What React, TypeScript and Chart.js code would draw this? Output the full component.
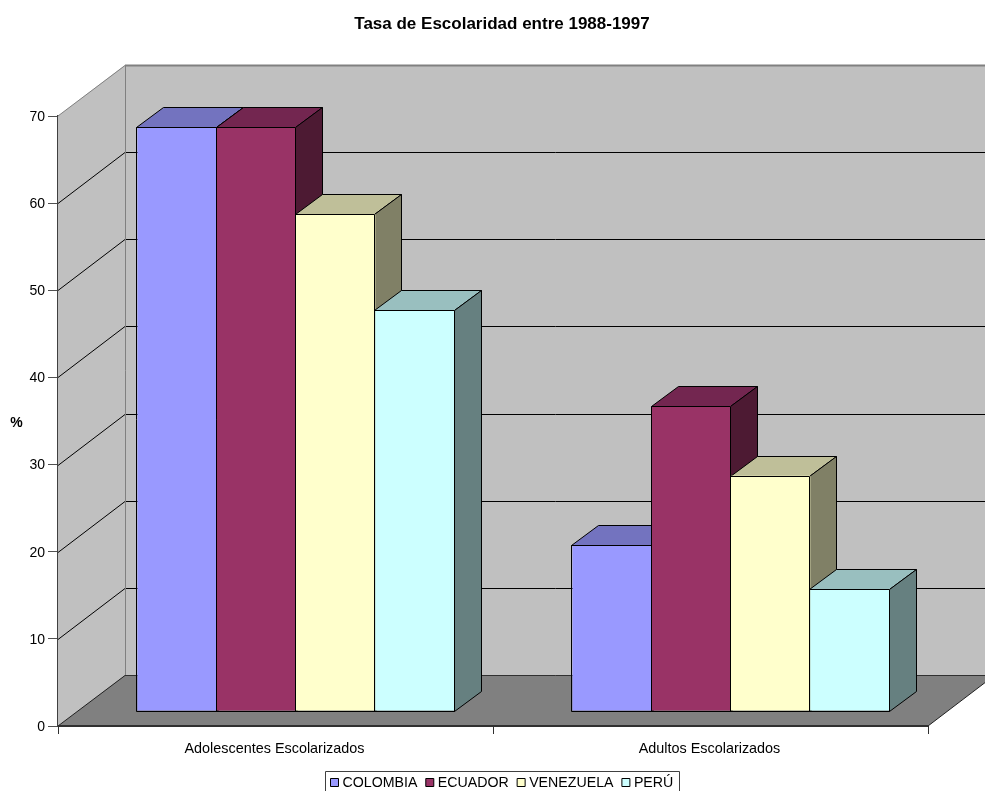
import React, { useEffect, useRef } from "react";
import { Chart, registerables } from "chart.js";

Chart.register(...registerables);

const chartTitle = "Tasa de Escolaridad entre 1988-1997";
const yAxisLabel = "%";
const categories = ["Adolescentes Escolarizados", "Adultos Escolarizados"];
const colombia = [67, 19];
const ecuador = [67, 35];
const venezuela = [57, 27];
const peru = [46, 14];
const seriesNames = ["COLOMBIA", "ECUADOR", "VENEZUELA", "PERÚ"];
const seriesColors = ["#9999FF", "#993366", "#FFFFCC", "#CCFFFF"];
const topColors = ["#7373BF", "#732650", "#BFBF99", "#99BFBF"];
const sideColors = ["#4D4D80", "#4D1A33", "#808066", "#668080"];
const seriesValues = [colombia, ecuador, venezuela, peru];

const FONT = '"Liberation Sans", Arial, sans-serif';
// Receding direction of the room and of the bars, in canvas pixels.
const WALL_DEPTH = { x: 67, y: -51 };
const BAR_INSET = { x: 20.5, y: -15 };
const BAR_DEPTH = { x: 27, y: -20 };

function polygon(ctx: CanvasRenderingContext2D, pts: number[][], fill: string | null, stroke: string | null, lw = 1) {
  ctx.beginPath();
  pts.forEach(([x, y], i) => (i ? ctx.lineTo(x, y) : ctx.moveTo(x, y)));
  ctx.closePath();
  if (fill) {
    ctx.fillStyle = fill;
    ctx.fill();
  }
  if (stroke) {
    ctx.strokeStyle = stroke;
    ctx.lineWidth = lw;
    ctx.stroke();
  }
}

function line(ctx: CanvasRenderingContext2D, x1: number, y1: number, x2: number, y2: number, color: string, lw = 1) {
  ctx.beginPath();
  ctx.moveTo(x1, y1);
  ctx.lineTo(x2, y2);
  ctx.strokeStyle = color;
  ctx.lineWidth = lw;
  ctx.stroke();
}

// Back wall, side wall and floor of the 3D room, with the grid running along the walls.
const roomPlugin = {
  id: "room",
  beforeDatasetsDraw(chart: any) {
    const { ctx, scales } = chart;
    const { x: xs, y: ys } = scales;
    const dx = WALL_DEPTH.x;
    const dy = WALL_DEPTH.y;
    const l = xs.left;
    const r = xs.right;
    const y0 = ys.getPixelForValue(0);
    const yMax = ys.getPixelForValue(ys.max);
    ctx.save();
    polygon(ctx, [[l + dx, yMax + dy], [r + dx, yMax + dy], [r + dx, y0 + dy], [l + dx, y0 + dy]], "#C0C0C0", null);
    polygon(ctx, [[l, yMax], [l + dx, yMax + dy], [l + dx, y0 + dy], [l, y0]], "#C0C0C0", null);
    polygon(ctx, [[l, y0], [r, y0], [r + dx, y0 + dy], [l + dx, y0 + dy]], "#808080", null);
    for (const tick of ys.ticks) {
      const v = tick.value;
      if (v === 0 || v === ys.max) continue;
      const py = Math.round(ys.getPixelForValue(v)) + 0.5;
      line(ctx, l, py, l + dx, py + dy, "#000000");
      line(ctx, l + dx, py + dy, r + dx, py + dy, "#000000");
    }
    const backTop = Math.round(yMax + dy) + 0.5;
    const backBottom = Math.round(y0 + dy) + 0.5;
    line(ctx, l + dx + 0.5, backTop, l + dx + 0.5, backBottom, "#808080");
    line(ctx, l, yMax, l + dx, backTop, "#808080");
    line(ctx, l + dx, backTop, r + dx, backTop, "#808080", 2);
    line(ctx, l, y0, l + dx, backBottom, "#202020");
    line(ctx, l + dx, backBottom, r + dx, backBottom, "#303030");
    line(ctx, r, y0, r + dx, y0 + dy, "#202020");
    ctx.restore();
    drawBars(chart);
  },
  // The library's own pass over the series is replaced by drawBars.
  beforeDatasetDraw() {
    return false;
  },
  afterDraw(chart: any) {
    const { ctx, scales } = chart;
    const { x: xs, y: ys } = scales;
    const y0 = Math.round(ys.getPixelForValue(0));
    ctx.save();
    line(ctx, xs.left, y0, xs.right, y0, "#303030", 2);
    ctx.textBaseline = "middle";
    ctx.fillStyle = "#000000";
    ctx.textAlign = "center";
    ctx.font = `bold 17px ${FONT}`;
    ctx.fillText(chartTitle, 502, 24);
    ctx.font = `bold 14px ${FONT}`;
    ctx.fillText(yAxisLabel, 16.5, 423);
    // Framed legend along the bottom edge.
    const boxLeft = 325.5;
    const boxTop = 771.5;
    polygon(ctx, [[boxLeft, boxTop], [679.5, boxTop], [679.5, 800], [boxLeft, 800]], "#FFFFFF", "#404040");
    ctx.font = `14.2px ${FONT}`;
    ctx.textAlign = "left";
    let x = 330.5;
    chart.data.datasets.forEach((ds: any) => {
      polygon(ctx, [[x, 778.5], [x + 8, 778.5], [x + 8, 786.5], [x, 786.5]], ds.backgroundColor, "#000000");
      ctx.fillStyle = "#000000";
      ctx.fillText(ds.label, x + 12, 783);
      x += 12 + ctx.measureText(ds.label).width + 8.4;
    });
    ctx.restore();
  },
};

// Paints the series left to right, shifted into the room, each bar with its top and side faces,
// so every bar covers the side of its left neighbour.
function drawBars(chart: any) {
  const { ctx } = chart;
  const dx = BAR_DEPTH.x;
  const dy = BAR_DEPTH.y;
  chart.data.datasets.forEach((_: any, i: number) => {
    for (const bar of chart.getDatasetMeta(i).data) {
      const { x, y, base, width } = bar.getProps(["x", "y", "base", "width"], true);
      // Snap the outline to the pixel grid so the shared edges stay sharp.
      const l = Math.round(x - width / 2 + BAR_INSET.x) - 0.5;
      const r = Math.round(x + width / 2 + BAR_INSET.x) - 0.5;
      const t = Math.round(y + BAR_INSET.y) + 0.5;
      const b = Math.round(base + BAR_INSET.y) + 0.5;
      polygon(ctx, [[l, t], [l + dx, t + dy], [r + dx, t + dy], [r, t]], topColors[i], "#000000");
      polygon(ctx, [[r, t], [r + dx, t + dy], [r + dx, b + dy], [r, b]], sideColors[i], "#000000");
      ctx.save();
      ctx.translate(BAR_INSET.x, BAR_INSET.y);
      bar.draw(ctx);
      ctx.restore();
      polygon(ctx, [[l, t], [r, t], [r, b], [l, b]], null, "#000000");
    }
  });
}

export default function App() {
  const canvasRef = useRef<HTMLCanvasElement | null>(null);

  useEffect(() => {
    document.body.style.margin = "0";
    const chart = new Chart(canvasRef.current as HTMLCanvasElement, {
      type: "bar",
      data: {
        labels: categories,
        datasets: seriesNames.map((label, i) => ({
          label,
          data: seriesValues[i],
          backgroundColor: seriesColors[i],
          borderColor: seriesColors[i],
          borderWidth: 0,
          categoryPercentage: 0.729,
          barPercentage: 1,
          clip: false,
        })),
      } as any,
      options: {
        animation: false,
        responsive: false,
        layout: { padding: { top: 116, right: 57, bottom: 0, left: 0 } },
        plugins: { legend: { display: false }, title: { display: false }, tooltip: { enabled: false } },
        scales: {
          x: {
            afterFit: (s: any) => {
              s.height = 65;
            },
            grid: { drawOnChartArea: false, drawTicks: true, tickLength: 8, color: "#303030" },
            border: { color: "#303030" },
            ticks: { color: "#000000", font: { family: FONT, size: 14.4 }, padding: 6, maxRotation: 0, labelOffset: -1 },
          },
          y: {
            min: 0,
            max: 70,
            afterFit: (s: any) => {
              s.width = 58;
            },
            grid: { drawOnChartArea: false, drawTicks: true, tickLength: 10, color: "#505050" },
            border: { color: "#404040", width: 2 },
            ticks: { stepSize: 10, color: "#000000", font: { family: FONT, size: 14 }, padding: 3, labelOffset: 1 },
          },
        },
      } as any,
      plugins: [roomPlugin] as any,
    });
    return () => chart.destroy();
  }, []);

  return <canvas ref={canvasRef} width={985} height={791} style={{ display: "block" }} />;
}
